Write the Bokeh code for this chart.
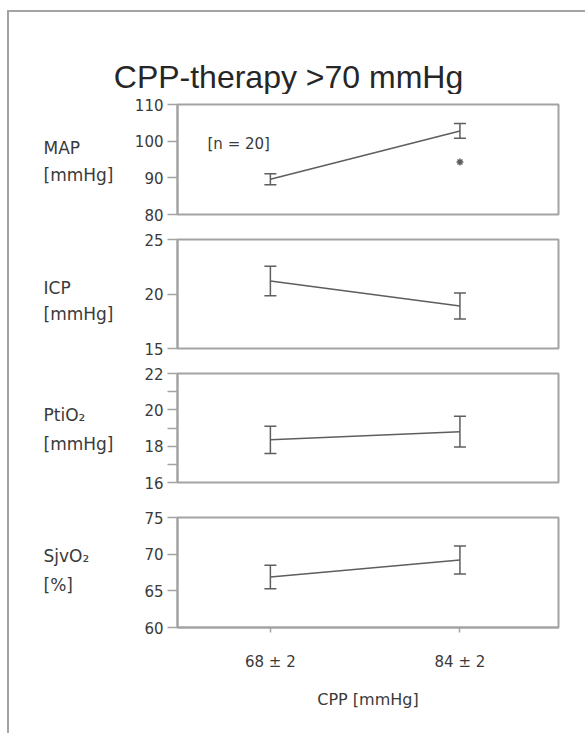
from bokeh.plotting import figure
from bokeh.layouts import column, row
from bokeh.models import Range1d, FixedTicker, Label, Whisker, TeeHead, ColumnDataSource
from bokeh.core.properties import value
from bokeh.embed import file_html
from bokeh.resources import INLINE

# ---------------- data ----------------
cpp_labels = ["68 ± 2", "84 ± 2"]          # CPP groups (x categories)
cpp_pos = [1, 2]

map_mean = [89.6, 102.8]
map_sem = [1.5, 2.0]
icp_mean = [21.2, 18.9]
icp_sem = [1.35, 1.2]
pti_mean = [18.35, 18.8]
pti_sem = [0.75, 0.85]
sjv_mean = [66.9, 69.2]
sjv_sem = [1.6, 1.9]

panel_names = ["MAP", "ICP", "PtiO₂", "SjvO₂"]
panel_units = ["[mmHg]", "[mmHg]", "[mmHg]", "[%]"]
y_limits = [(80, 110), (15, 25), (16, 22), (60, 75)]
y_major = [[80, 90, 100, 110], [15, 20, 25], [16, 18, 20, 22], [60, 65, 70, 75]]
y_minor = [[], [], [17, 19, 21], []]
means = [map_mean, icp_mean, pti_mean, sjv_mean]
sems = [map_sem, icp_sem, pti_sem, sjv_sem]

sig_pos = [2]        # significance marker in MAP panel
sig_y = [94.3]
n_text = "[n = 20]"
title_text = "CPP-therapy >70 mmHg"
x_title = "CPP [mmHg]"

# ---------------- geometry / style (pixels) ----------------
PAGE_L, PAGE_T, PAGE_R, PAGE_B = 9, 12, 585, 733
HEADER_H = 82
LABEL_W = 110
FIG_W = 576 - LABEL_W
BL, BR = 58, 27
FW = FIG_W - BL - BR
heights = [132, 135, 134, 238]
tops = [10, 13, 12, 22]
bottoms = [12, 13, 13, 106]
X0, X1 = 0.51, 2.52

FONT = "DejaVu Sans"
TFONT = "Liberation Sans"
GRID = "#a3a3a3"
INK = "#3a3a3a"
LINE = "#5e5e5e"

# text anchor positions in page pixels
title_xy = (288, 76)
name_y = [147, 287, 414, 555]
unit_y = [174, 313, 443, 584]
label_x = 43
n_dx, n_dy = 30, 39   # offset of "[n = 20]" from MAP frame's top-left


def blank(w, h, xr, yr):
    b = figure(width=w, height=h, x_range=Range1d(*xr), y_range=Range1d(*yr),
               output_backend="svg", toolbar_location=None,
               x_axis_location=None, y_axis_location=None, min_border=0,
               outline_line_color=None, background_fill_color="white",
               border_fill_color="white")
    b.xgrid.visible = False
    b.ygrid.visible = False
    return b


# header with the title
header = blank(576, HEADER_H, (PAGE_L, PAGE_R), (PAGE_T + HEADER_H, PAGE_T))
header.text(x=[title_xy[0]], y=[title_xy[1]], text=[title_text],
            text_align="center", text_baseline="middle",
            text_font=value(TFONT), text_font_size="32px", text_color="#262626")

# left column with the panel names
top_y = PAGE_T + HEADER_H
labels = blank(LABEL_W, sum(heights), (PAGE_L, PAGE_L + LABEL_W), (top_y + sum(heights), top_y))
labels.text(x=[label_x] * 4, y=name_y, text=panel_names, text_align="left",
            text_baseline="middle", text_font=value(FONT), text_font_size="17px",
            text_color=INK)
labels.text(x=[label_x] * 4, y=unit_y, text=panel_units, text_align="left",
            text_baseline="middle", text_font=value(FONT), text_font_size="17px",
            text_color=INK)

figs = []
for i in range(4):
    last = i == 3
    lo, hi = y_limits[i]
    fh = heights[i] - tops[i] - bottoms[i]
    p = figure(width=FIG_W, height=heights[i],
               x_range=Range1d(X0, X1), y_range=Range1d(lo, hi),
               output_backend="svg", toolbar_location=None,
               x_axis_location="below" if last else None,
               min_border_left=BL, min_border_right=BR,
               min_border_top=tops[i], min_border_bottom=bottoms[i],
               background_fill_color="white", border_fill_color="white")
    p.xgrid.visible = False
    p.ygrid.visible = False
    p.outline_line_color = GRID
    p.outline_line_width = 2

    ax = p.yaxis[0]
    ax.ticker = FixedTicker(ticks=y_major[i], minor_ticks=y_minor[i])
    ax.axis_line_color = GRID
    ax.axis_line_width = 2
    ax.major_tick_line_color = GRID
    ax.major_tick_line_width = 1.5
    ax.minor_tick_line_color = GRID
    ax.minor_tick_line_width = 1.5
    ax.major_tick_out = 10
    ax.major_tick_in = 0
    ax.minor_tick_out = 10
    ax.minor_tick_in = 0
    ax.major_label_standoff = 4
    ax.major_label_text_font = FONT
    ax.major_label_text_font_size = "15px"
    ax.major_label_text_color = INK

    if last:
        xa = p.xaxis[0]
        xa.ticker = FixedTicker(ticks=cpp_pos)
        xa.major_label_overrides = {pos: lab for pos, lab in zip(cpp_pos, cpp_labels)}
        xa.axis_line_color = GRID
        xa.axis_line_width = 2
        xa.major_tick_line_color = GRID
        xa.major_tick_line_width = 1.5
        xa.major_tick_out = 5
        xa.major_tick_in = 0
        xa.major_label_standoff = 20
        xa.major_label_text_font = FONT
        xa.major_label_text_font_size = "15px"
        xa.major_label_text_color = INK
        xa.axis_label = x_title
        xa.axis_label_standoff = 16
        xa.axis_label_text_font = FONT
        xa.axis_label_text_font_size = "16px"
        xa.axis_label_text_font_style = "normal"
        xa.axis_label_text_color = INK

    src = ColumnDataSource(dict(
        x=cpp_pos, mean=means[i],
        upper=[m + s for m, s in zip(means[i], sems[i])],
        lower=[m - s for m, s in zip(means[i], sems[i])]))
    p.line("x", "mean", source=src, line_color=LINE, line_width=1.5)
    p.add_layout(Whisker(source=src, base="x", upper="upper", lower="lower",
                         line_color=LINE, line_width=1.5,
                         upper_head=TeeHead(size=12, line_color=LINE, line_width=1.5),
                         lower_head=TeeHead(size=12, line_color=LINE, line_width=1.5)))

    if i == 0:
        p.scatter(sig_pos, sig_y, marker="asterisk", size=7, line_color=LINE, line_width=1.5)
        p.add_layout(Label(x=X0 + n_dx * (X1 - X0) / FW, y=hi - n_dy * (hi - lo) / fh,
                           text=n_text, text_font=FONT, text_font_size="15px",
                           text_color=INK, text_align="left", text_baseline="middle"))
    figs.append(p)

layout = column(header, row(labels, column(*figs, spacing=0), spacing=0),
                spacing=0, margin=(10, 0, 0, 7),
                styles={"border-top": "2px solid #a3a3a3", "border-left": "2px solid #a3a3a3"})

open("out.html", "w").write(file_html(layout, INLINE))
